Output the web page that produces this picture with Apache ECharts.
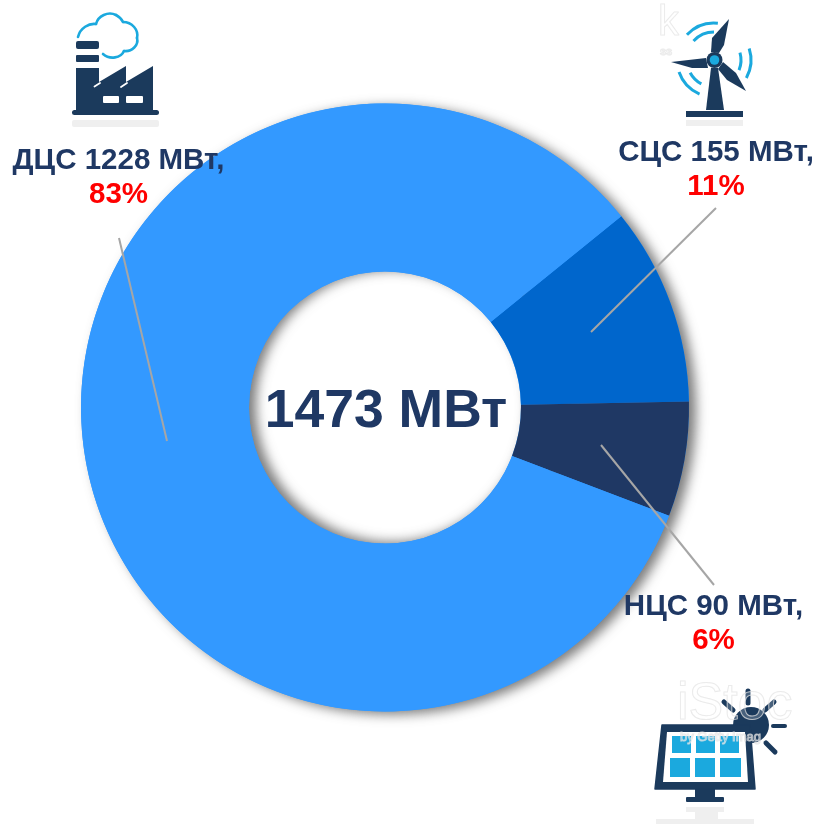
<!DOCTYPE html>
<html><head><meta charset="utf-8">
<style>html,body{margin:0;padding:0;background:#fff}#c{width:821px;height:824px}</style>
<script src="https://cdn.jsdelivr.net/npm/echarts@6/dist/echarts.min.js"></script>
</head><body><div id="c"></div>
<script>
// Data
const names = ['СЦС', 'НЦС', 'ДЦС'];
const values = [155, 90, 1228];
const shares = [11, 6, 83];
const unit = 'МВт';
const totalValue = 1473;
const sliceColors = ['#0066CC', '#1F3864', '#3399FF'];

// Layout
const CX = 385, CY = 407.5, R = 304, r = 136;
const labelPos = [[716, 170], [713.5, 624], [118.5, 178]];
const leaders = [[[716, 208], [591, 332]], [[601, 445], [714, 585]], [[119, 238], [167, 441]]];
const NAVY = '#1F3864', ICON = '#1B3A5C', SKY = '#1BA9DE', REFL = '#EFEFEF', FAINT = 'rgba(225,225,225,0.75)';

function poly(points, fill) { return { type: 'polygon', z: 50, silent: true, shape: { points }, style: { fill } }; }
function rect(x, y, w, h, fill, rad) { return { type: 'rect', z: 50, silent: true, shape: { x, y, width: w, height: h, r: rad || 0 }, style: { fill } }; }
function seg(a, b, c, d, w, col) { return { type: 'line', z: 50, silent: true, shape: { x1: a, y1: b, x2: c, y2: d }, style: { stroke: col || ICON, lineWidth: w, lineCap: 'round' } }; }
function arc(rad, a0, a1) {
  return { type: 'arc', z: 50, silent: true, shape: { cx: 714, cy: 60, r: rad, startAngle: a0 * Math.PI / 180, endAngle: a1 * Math.PI / 180, clockwise: true },
    style: { stroke: SKY, lineWidth: 3, fill: 'none' } };
}
function curve(a) {
  return { type: 'bezierCurve', z: 50, silent: true, shape: { x1: a[0], y1: a[1], cpx1: a[2], cpy1: a[3], cpx2: a[4], cpy2: a[5], x2: a[6], y2: a[7] },
    style: { stroke: SKY, lineWidth: 2.6, fill: 'none', lineCap: 'round' } };
}
function wm(text, x, y, size, weight) {
  return { type: 'text', z: 60, silent: true, style: { text, x, y, font: (weight || 'normal') + ' ' + size + 'px "Liberation Sans"', fill: 'rgba(255,255,255,0.2)', stroke: FAINT, lineWidth: 1 } };
}
function shadowRing(inner, outer, dx, dy) {
  return { type: 'pie', silent: true, z: 1, center: [CX, CY], radius: [inner, outer], label: { show: false }, labelLine: { show: false },
    itemStyle: { color: '#3399FF', shadowColor: 'rgba(80,80,80,0.75)', shadowBlur: 12, shadowOffsetX: dx, shadowOffsetY: dy },
    emphasis: { disabled: true }, data: [{ value: totalValue, name: 'total' }] };
}

const factory = [
  curve([78, 37, 80, 28, 89, 23, 96, 24]), curve([96, 24, 98, 16, 108, 11, 116, 15]), curve([116, 15, 120, 17, 122, 20, 123, 22]),
  curve([123, 22, 132, 22, 139, 30, 137, 38]), curve([137, 38, 139, 45, 132, 52, 124, 51]), curve([124, 51, 121, 58, 110, 60, 103, 54]),
  rect(76, 41, 23, 8, ICON, 2), rect(76, 55, 23, 7, ICON, 1),
  poly([[76, 68], [99, 68], [99, 82], [126, 66], [126, 82], [153, 66], [153, 111], [76, 111]], ICON),
  seg(94.5, 86.5, 100, 83, 1.8, '#fff'), seg(121, 87, 127, 83, 1.8, '#fff'),
  rect(103, 96, 16, 7, '#fff', 1), rect(126, 96, 17, 7, '#fff', 1),
  rect(72, 110, 87, 5, ICON, 2.5), rect(72, 120, 87, 7, REFL, 2)
];
const turbine = [
  arc(37, -137, -84), arc(28, -137, -90), arc(37, -18, 29), arc(27, -16, 22), arc(37, 113, 161), arc(27, 118, 152),
  poly([[729, 19], [724, 45], [719, 53], [711, 52], [712, 38]], ICON),
  poly([[671, 62], [706, 58], [708, 68], [692, 68]], ICON),
  poly([[746, 91], [736, 73], [723, 62], [718, 69], [727, 80]], ICON),
  poly([[711, 68], [718, 68], [724, 110], [706, 110]], ICON),
  rect(686, 111, 57, 6, ICON),
  rect(686, 120, 57, 6, REFL),
  { type: 'circle', z: 51, silent: true, shape: { cx: 714.5, cy: 60, r: 8 }, style: { fill: ICON } },
  { type: 'circle', z: 52, silent: true, shape: { cx: 714.5, cy: 60, r: 4.8 }, style: { fill: SKY } }
];
const solar = [
  { type: 'circle', z: 50, silent: true, shape: { cx: 751, cy: 725, r: 18 }, style: { fill: ICON } },
  seg(748, 691, 748, 703, 5), seg(724, 702, 733, 710, 5), seg(774, 702, 765, 710, 5), seg(773, 726, 785, 726, 4), seg(766, 743, 775, 752, 5),
  { type: 'polygon', z: 51, silent: true, shape: { points: [[662, 725], [750, 725], [755, 789], [655, 789]] }, style: { fill: ICON, stroke: ICON, lineWidth: 1.5, lineJoin: 'round' } },
  { type: 'polygon', z: 51, silent: true, shape: { points: [[667, 732], [745, 732], [748, 782], [663, 782]] }, style: { fill: '#fff' } }
].concat([
  [672, 736, 19, 17], [696, 736, 19, 17], [720, 736, 19, 17],
  [670, 758, 20, 19], [695, 758, 20, 19], [720, 758, 21, 19]
].map(c => { const e = rect(c[0], c[1], c[2], c[3], SKY); e.z = 52; return e; })).concat([
  rect(695, 789, 20, 8, ICON), rect(686, 797, 38, 5, ICON, 1),
  rect(686, 807, 38, 5, REFL), rect(695, 812, 23, 7, REFL), rect(656, 819, 98, 5, REFL)
]);
const watermarks = [
  wm('iStoc', 677, 679, 52), wm('by Getty Imag', 680, 731, 13),
  wm('k', 658, 2, 42), wm('ss', 660, 46, 11, 'bold')
];
const leaderLines = leaders.map(p => ({
  type: 'line', z: 40, silent: true, shape: { x1: p[0][0], y1: p[0][1], x2: p[1][0], y2: p[1][1] },
  style: { stroke: '#A6A6A6', lineWidth: 2 }
}));

const chart = echarts.init(document.getElementById('c'), null, { renderer: 'canvas' });
chart.setOption({
  animation: false,
  backgroundColor: '#fff',
  graphic: { elements: [
    ...leaderLines, ...factory, ...turbine, ...solar, ...watermarks,
    { type: 'text', z: 70, silent: true, style: { text: totalValue + ' ' + unit, x: CX + 1, y: CY + 4.5, align: 'center', verticalAlign: 'middle',
      font: 'bold 53.5px "Liberation Sans"', fill: NAVY } }
  ] },
  series: [
    shadowRing(r + 40, R, 7, 3),      // outer edge shadow
    shadowRing(r, r + 40, 7, -1.5),   // shadow falling into the hole
    {
      type: 'pie', silent: true, z: 2, center: [CX, CY], radius: [r, R], startAngle: 39, clockwise: true, avoidLabelOverlap: false,
      emphasis: { disabled: true }, labelLine: { show: false },
      label: {
        show: true, position: 'outside',
        formatter: p => '{a|' + names[p.dataIndex] + ' ' + values[p.dataIndex] + ' ' + unit + ',}\n{b|' + shares[p.dataIndex] + '%}',
        rich: {
          a: { fontFamily: 'Liberation Sans', fontWeight: 'bold', fontSize: 29.5, color: NAVY, lineHeight: 34, align: 'center' },
          b: { fontFamily: 'Liberation Sans', fontWeight: 'bold', fontSize: 29.5, color: '#FF0000', lineHeight: 34, align: 'center' }
        }
      },
      labelLayout: p => ({ x: labelPos[p.dataIndex][0], y: labelPos[p.dataIndex][1], align: 'center', verticalAlign: 'middle', hideOverlap: false }),
      data: values.map((v, i) => ({ value: v, name: names[i], itemStyle: { color: sliceColors[i] } }))
    }
  ]
});
</script></body></html>
